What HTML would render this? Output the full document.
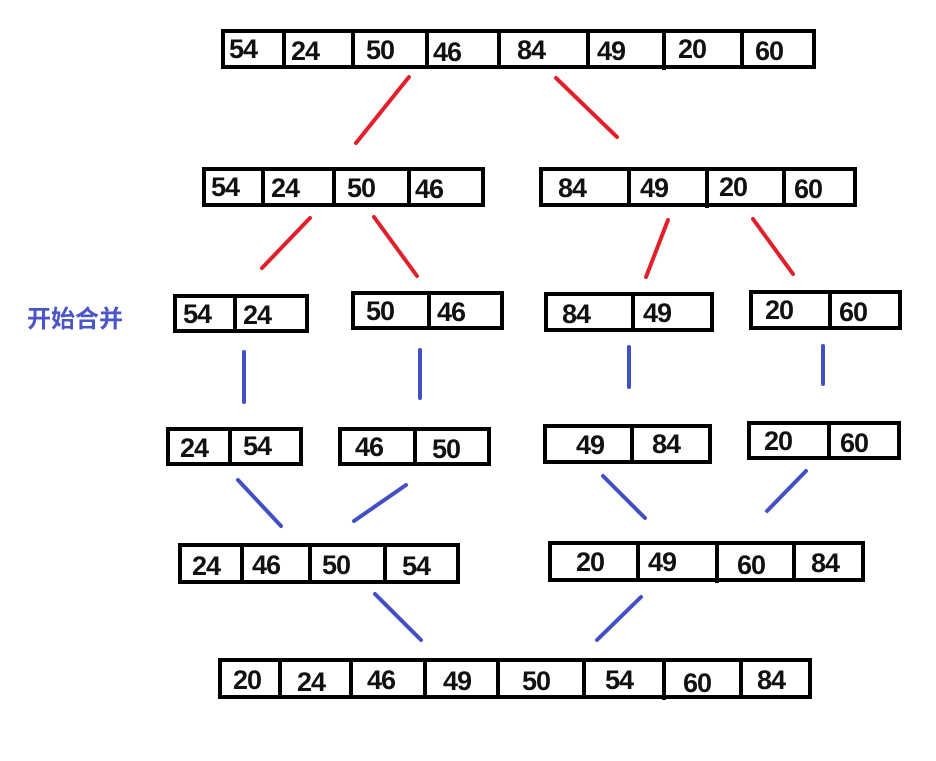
<!DOCTYPE html>
<html><head><meta charset="utf-8"><style>
html,body{margin:0;padding:0;background:#fff;}
svg{display:block}
text{font-family:"Liberation Sans",sans-serif;font-weight:bold;font-size:27px;letter-spacing:-1px;fill:#111}
</style></head><body>
<svg width="936" height="761" viewBox="0 0 936 761" xmlns="http://www.w3.org/2000/svg">
<g fill="none" stroke="#000" stroke-width="4">
<rect x="223" y="31" width="591" height="36"/>
<path d="M284 31V67M353 31V67M427 31V67M499 31V67M588 31V67M664 31V70M742 31V67"/>
<rect x="204" y="169" width="279" height="36"/>
<path d="M263 169V205M334 169V205M409 169V205"/>
<rect x="541" y="169" width="314" height="36"/>
<path d="M629 169V205M707 169V208M784 169V205"/>
<rect x="175" y="296" width="132" height="35"/>
<path d="M235 296V331"/>
<rect x="353" y="293" width="149" height="35"/>
<path d="M429 293V328"/>
<rect x="546" y="294" width="166" height="36"/>
<path d="M633 294V330"/>
<rect x="751" y="292" width="149" height="36"/>
<path d="M830 292V328"/>
<rect x="168" y="429" width="133" height="35"/>
<path d="M230 429V464"/>
<rect x="340" y="429" width="149" height="35"/>
<path d="M415 429V464"/>
<rect x="545" y="426" width="165" height="36"/>
<path d="M632 426V462"/>
<rect x="749" y="423" width="150" height="35"/>
<path d="M829 423V458"/>
<rect x="180" y="545" width="278" height="37"/>
<path d="M242 545V582M310 545V582M385 545V582"/>
<rect x="550" y="543" width="313" height="37"/>
<path d="M638 543V580M717 543V583M794 543V580"/>
<rect x="220" y="660" width="590" height="37"/>
<path d="M280 660V697M351 660V697M425 660V697M498 660V697M584 660V697M664 660V700M741 660V697"/>
</g>
<g stroke="#e1202b" stroke-width="4" stroke-linecap="round">
<line x1="409" y1="77" x2="356" y2="143"/>
<line x1="556" y1="78" x2="617" y2="137"/>
<line x1="310" y1="218" x2="262" y2="268"/>
<line x1="374" y1="217" x2="417" y2="276"/>
<line x1="668" y1="220" x2="646" y2="277"/>
<line x1="753" y1="219" x2="793" y2="274"/>
</g>
<g stroke="#4350c4" stroke-width="4" stroke-linecap="round">
<line x1="244" y1="352" x2="244" y2="402"/>
<line x1="420" y1="350" x2="420" y2="398"/>
<line x1="629" y1="347" x2="629" y2="387"/>
<line x1="823" y1="346" x2="823" y2="384"/>
<line x1="238" y1="480" x2="281" y2="526"/>
<line x1="406" y1="485" x2="354" y2="521"/>
<line x1="603" y1="476" x2="645" y2="518"/>
<line x1="806" y1="471" x2="767" y2="511"/>
<line x1="375" y1="594" x2="421" y2="640"/>
<line x1="641" y1="597" x2="597" y2="640"/>
</g>
<text x="229" y="58">54</text><text x="291" y="60">24</text><text x="366" y="59">50</text><text x="433" y="61">46</text><text x="517" y="59">84</text><text x="597" y="60">49</text><text x="678" y="58">20</text><text x="755" y="60">60</text>
<text x="211" y="196">54</text><text x="271" y="197">24</text><text x="347" y="197">50</text><text x="415" y="198">46</text>
<text x="558" y="197">84</text><text x="640" y="197">49</text><text x="719" y="196">20</text><text x="794" y="198">60</text>
<text x="183" y="323">54</text><text x="243" y="324">24</text>
<text x="366" y="320">50</text><text x="437" y="321">46</text>
<text x="562" y="323">84</text><text x="643" y="322">49</text>
<text x="765" y="319">20</text><text x="839" y="321">60</text>
<text x="180" y="457">24</text><text x="243" y="455">54</text>
<text x="355" y="456">46</text><text x="432" y="458">50</text>
<text x="576" y="454">49</text><text x="652" y="453">84</text>
<text x="764" y="450">20</text><text x="840" y="452">60</text>
<text x="192" y="575">24</text><text x="252" y="574">46</text><text x="322" y="574">50</text><text x="402" y="575">54</text>
<text x="576" y="571">20</text><text x="648" y="571">49</text><text x="737" y="574">60</text><text x="811" y="572">84</text>
<text x="233" y="689">20</text><text x="297" y="691">24</text><text x="367" y="689">46</text><text x="443" y="690">49</text><text x="522" y="690">50</text><text x="605" y="689">54</text><text x="683" y="692">60</text><text x="757" y="689">84</text>
<text x="27" y="327" style="font-family:'Liberation Sans','Noto Sans CJK SC',sans-serif;font-size:24px;letter-spacing:0;fill:#4a55c8">开始合并</text>
</svg>
</body></html>
